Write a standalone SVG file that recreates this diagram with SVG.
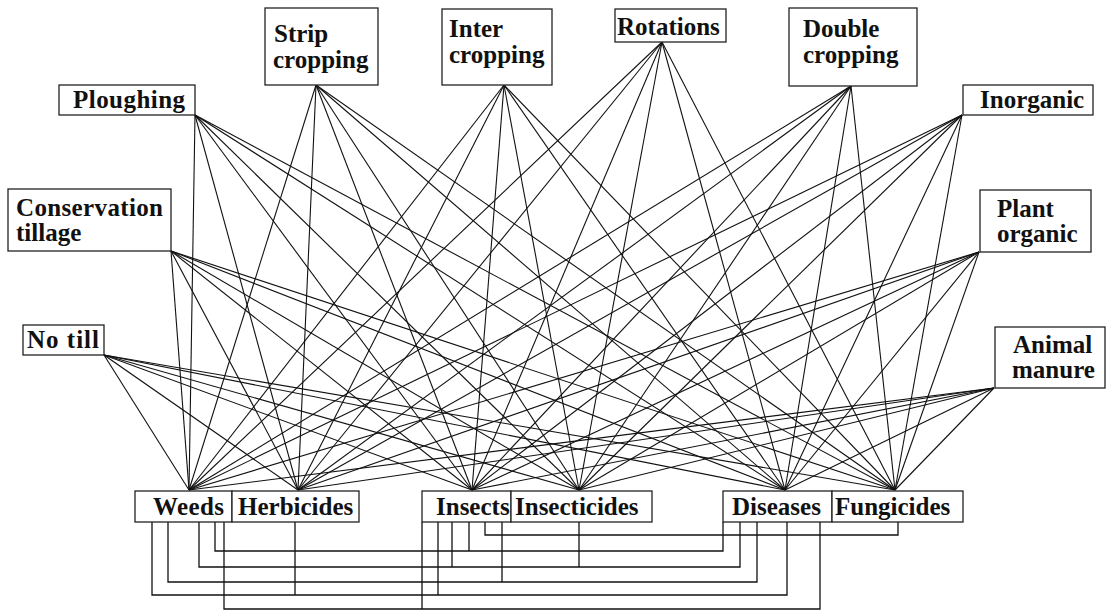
<svg xmlns="http://www.w3.org/2000/svg" width="1106" height="612" viewBox="0 0 1106 612">
<style>
.box{fill:#fff;stroke:#222;stroke-width:1.3}
.t{font-family:"Liberation Serif","Times New Roman",serif;font-weight:bold;font-size:25px;fill:#111}
.e{stroke:#111;stroke-width:1.1;fill:none}
.b{stroke:#111;stroke-width:1.3;fill:none}
</style>
<rect width="1106" height="612" fill="#fff"/>
<g id="connectors">
<g id="fan">
<line class="e" x1="195" y1="115" x2="189" y2="490"/><line class="e" x1="195" y1="115" x2="298" y2="490"/><line class="e" x1="195" y1="115" x2="472" y2="490"/><line class="e" x1="195" y1="115" x2="579" y2="490"/><line class="e" x1="195" y1="115" x2="785" y2="490"/><line class="e" x1="195" y1="115" x2="895" y2="490"/>
<line class="e" x1="316" y1="85" x2="189" y2="490"/><line class="e" x1="316" y1="85" x2="298" y2="490"/><line class="e" x1="316" y1="85" x2="472" y2="490"/><line class="e" x1="316" y1="85" x2="579" y2="490"/><line class="e" x1="316" y1="85" x2="785" y2="490"/><line class="e" x1="316" y1="85" x2="895" y2="490"/>
<line class="e" x1="504" y1="85" x2="189" y2="490"/><line class="e" x1="504" y1="85" x2="298" y2="490"/><line class="e" x1="504" y1="85" x2="472" y2="490"/><line class="e" x1="504" y1="85" x2="579" y2="490"/><line class="e" x1="504" y1="85" x2="785" y2="490"/><line class="e" x1="504" y1="85" x2="895" y2="490"/>
<line class="e" x1="662" y1="42" x2="189" y2="490"/><line class="e" x1="662" y1="42" x2="298" y2="490"/><line class="e" x1="662" y1="42" x2="472" y2="490"/><line class="e" x1="662" y1="42" x2="579" y2="490"/><line class="e" x1="662" y1="42" x2="785" y2="490"/><line class="e" x1="662" y1="42" x2="895" y2="490"/>
<line class="e" x1="851" y1="86" x2="189" y2="490"/><line class="e" x1="851" y1="86" x2="298" y2="490"/><line class="e" x1="851" y1="86" x2="472" y2="490"/><line class="e" x1="851" y1="86" x2="579" y2="490"/><line class="e" x1="851" y1="86" x2="785" y2="490"/><line class="e" x1="851" y1="86" x2="895" y2="490"/>
<line class="e" x1="962" y1="115" x2="189" y2="490"/><line class="e" x1="962" y1="115" x2="298" y2="490"/><line class="e" x1="962" y1="115" x2="472" y2="490"/><line class="e" x1="962" y1="115" x2="579" y2="490"/><line class="e" x1="962" y1="115" x2="785" y2="490"/><line class="e" x1="962" y1="115" x2="895" y2="490"/>
<line class="e" x1="171" y1="251" x2="189" y2="490"/><line class="e" x1="171" y1="251" x2="298" y2="490"/><line class="e" x1="171" y1="251" x2="472" y2="490"/><line class="e" x1="171" y1="251" x2="579" y2="490"/><line class="e" x1="171" y1="251" x2="785" y2="490"/><line class="e" x1="171" y1="251" x2="895" y2="490"/>
<line class="e" x1="104" y1="355" x2="189" y2="490"/><line class="e" x1="104" y1="355" x2="298" y2="490"/><line class="e" x1="104" y1="355" x2="472" y2="490"/><line class="e" x1="104" y1="355" x2="579" y2="490"/><line class="e" x1="104" y1="355" x2="785" y2="490"/><line class="e" x1="104" y1="355" x2="895" y2="490"/>
<line class="e" x1="979" y1="252" x2="189" y2="490"/><line class="e" x1="979" y1="252" x2="298" y2="490"/><line class="e" x1="979" y1="252" x2="472" y2="490"/><line class="e" x1="979" y1="252" x2="579" y2="490"/><line class="e" x1="979" y1="252" x2="785" y2="490"/><line class="e" x1="979" y1="252" x2="895" y2="490"/>
<line class="e" x1="994" y1="388" x2="189" y2="490"/><line class="e" x1="994" y1="388" x2="298" y2="490"/><line class="e" x1="994" y1="388" x2="472" y2="490"/><line class="e" x1="994" y1="388" x2="579" y2="490"/><line class="e" x1="994" y1="388" x2="785" y2="490"/><line class="e" x1="994" y1="388" x2="895" y2="490"/>
</g>
<g id="bus">
<path class="b" d="M485,522 V535 H898 V522"/>
<path class="b" d="M215,522 V551 H723 V522 M469,522 V551"/>
<path class="b" d="M199,522 V567 H740 V522 M452,522 V567 M579,522 V567"/>
<path class="b" d="M168,522 V582 H757 V522 M502,522 V582"/>
<path class="b" d="M152,522 V595 H787 V522 M295,522 V595 M438,522 V595"/>
<path class="b" d="M224,522 V609 H820 V522 M422,522 V609"/>
</g>
</g>
<g id="ploughing"><rect class="box" x="59" y="85" width="136" height="30"/><text class="t" x="73" y="108" textLength="112">Ploughing</text></g>
<g id="strip-cropping"><rect class="box" x="265" y="8" width="113" height="77"/><text class="t" x="274" y="42">Strip</text><text class="t" x="273" y="68">cropping</text></g>
<g id="inter-cropping"><rect class="box" x="442" y="9" width="110" height="76"/><text class="t" x="449" y="37">Inter</text><text class="t" x="449" y="63">cropping</text></g>
<g id="rotations"><rect class="box" x="615" y="9" width="111" height="33"/><text class="t" x="617" y="35">Rotations</text></g>
<g id="double-cropping"><rect class="box" x="789" y="8" width="128" height="78"/><text class="t" x="803" y="37">Double</text><text class="t" x="803" y="63">cropping</text></g>
<g id="inorganic"><rect class="box" x="963" y="85" width="130" height="30"/><text class="t" x="980" y="108">Inorganic</text></g>
<g id="conservation-tillage"><rect class="box" x="8" y="189" width="163" height="62"/><text class="t" x="16" y="216" textLength="147">Conservation</text><text class="t" x="16" y="241">tillage</text></g>
<g id="no-till"><rect class="box" x="23" y="325" width="81" height="30"/><text class="t" x="27" y="348" textLength="72">No till</text></g>
<g id="plant-organic"><rect class="box" x="980" y="190" width="111" height="62"/><text class="t" x="997" y="217">Plant</text><text class="t" x="997" y="242">organic</text></g>
<g id="animal-manure"><rect class="box" x="995" y="327" width="110" height="61"/><text class="t" x="1013" y="353">Animal</text><text class="t" x="1012" y="378">manure</text></g>
<g id="weeds"><rect class="box" x="135" y="491" width="97" height="31"/><text class="t" x="153" y="515" textLength="71">Weeds</text></g>
<g id="herbicides"><rect class="box" x="232" y="491" width="127" height="31"/><text class="t" x="238" y="515">Herbicides</text></g>
<g id="insects"><rect class="box" x="422" y="491" width="89" height="31"/><text class="t" x="436" y="515">Insects</text></g>
<g id="insecticides"><rect class="box" x="511" y="491" width="141" height="31"/><text class="t" x="515" y="515">Insecticides</text></g>
<g id="diseases"><rect class="box" x="723" y="491" width="109" height="31"/><text class="t" x="732" y="515">Diseases</text></g>
<g id="fungicides"><rect class="box" x="832" y="491" width="131" height="31"/><text class="t" x="835" y="515">Fungicides</text></g>
</svg>
